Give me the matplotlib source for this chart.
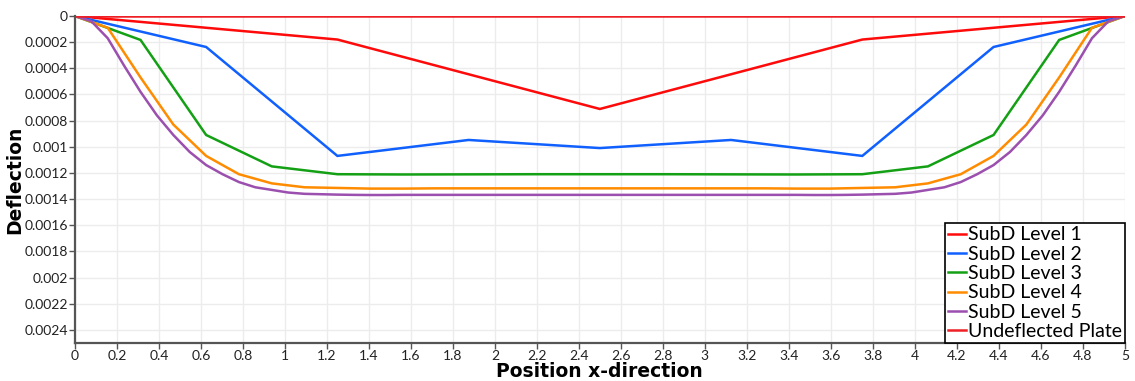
import matplotlib
matplotlib.use("Agg")
import matplotlib.pyplot as plt

# Plate deflection along the x-direction for successive subdivision levels
x_level1 = [0.0, 1.25, 2.5, 3.75, 5.0]
d_level1 = [0.0, 0.000180, 0.000711, 0.000180, 0.0]

x_level2 = [0.0, 0.625, 1.25, 1.875, 2.5, 3.125, 3.75, 4.375, 5.0]
d_level2 = [0.0, 0.000237, 0.00107, 0.000948, 0.00101, 0.000948, 0.00107, 0.000237, 0.0]

x_level3 = [0.0, 0.3125, 0.625, 0.9375, 1.25, 1.5625, 1.875, 2.1875, 2.5,
            2.8125, 3.125, 3.4375, 3.75, 4.0625, 4.375, 4.6875, 5.0]
d_level3 = [0.0, 0.000183, 0.00091, 0.00115, 0.00121, 0.001212, 0.001211, 0.00121, 0.00121,
            0.00121, 0.001211, 0.001212, 0.00121, 0.00115, 0.00091, 0.000183, 0.0]

x_level4 = [0.0, 0.15625, 0.3125, 0.46875, 0.625, 0.78125, 0.9375, 1.09375, 1.25,
            1.40625, 1.5625, 1.71875, 1.875, 2.03125, 2.1875, 2.34375, 2.5,
            2.65625, 2.8125, 2.96875, 3.125, 3.28125, 3.4375, 3.59375, 3.75,
            3.90625, 4.0625, 4.21875, 4.375, 4.53125, 4.6875, 4.84375, 5.0]
d_level4 = [0.0, 0.00009, 0.00047, 0.00083, 0.00107, 0.00121, 0.00128, 0.00131, 0.001315,
            0.00132, 0.00132, 0.001318, 0.001318, 0.001318, 0.001318, 0.001318, 0.001318,
            0.001318, 0.001318, 0.001318, 0.001318, 0.001318, 0.00132, 0.00132, 0.001315,
            0.00131, 0.00128, 0.00121, 0.00107, 0.00083, 0.00047, 0.00009, 0.0]

x_level5 = [0.0, 0.078125, 0.15625, 0.234375, 0.3125, 0.390625, 0.46875, 0.546875,
            0.625, 0.703125, 0.78125, 0.859375, 0.9375, 1.015625, 1.09375, 1.171875,
            1.25, 1.328125, 1.40625, 1.484375, 1.5625, 1.640625, 1.71875, 1.796875,
            1.875, 1.953125, 2.03125, 2.109375, 2.1875, 2.265625, 2.34375, 2.421875,
            2.5, 2.578125, 2.65625, 2.734375, 2.8125, 2.890625, 2.96875, 3.046875,
            3.125, 3.203125, 3.28125, 3.359375, 3.4375, 3.515625, 3.59375, 3.671875,
            3.75, 3.828125, 3.90625, 3.984375, 4.0625, 4.140625, 4.21875, 4.296875,
            4.375, 4.453125, 4.53125, 4.609375, 4.6875, 4.765625, 4.84375, 4.921875, 5.0]
d_level5 = [0.0, 0.00004, 0.00017, 0.00038, 0.00058, 0.00076, 0.00091, 0.00104,
            0.00114, 0.00121, 0.00127, 0.00131, 0.00133, 0.00135, 0.00136, 0.001363,
            0.001366, 0.001368, 0.001369, 0.001369, 0.001368, 0.001368, 0.001368, 0.001368,
            0.001368, 0.001368, 0.001368, 0.001368, 0.001368, 0.001368, 0.001368, 0.001368,
            0.001368, 0.001368, 0.001368, 0.001368, 0.001368, 0.001368, 0.001368, 0.001368,
            0.001368, 0.001368, 0.001368, 0.001368, 0.001368, 0.001369, 0.001369, 0.001368,
            0.001366, 0.001363, 0.00136, 0.00135, 0.00133, 0.00131, 0.00127, 0.00121,
            0.00114, 0.00104, 0.00091, 0.00076, 0.00058, 0.00038, 0.00017, 0.00004, 0.0]

x_plate = [0.0, 5.0]
d_plate = [0.0, 0.0]

series_labels = ["SubD Level 1", "SubD Level 2", "SubD Level 3",
                 "SubD Level 4", "SubD Level 5", "Undeflected Plate"]
series_colors = ["#ff0a0a", "#1060ff", "#14a014", "#ff8c00", "#9b4fae", "#ee2026"]

x_ticks = [round(0.2 * i, 1) for i in range(26)]
y_ticks = [0.0002 * i for i in range(13)]

plt.rcParams["font.family"] = ["Lato", "DejaVu Sans"]

fig = plt.figure(figsize=(11.35, 3.81), dpi=100)
ax = fig.add_axes([0.066, 0.1, 0.925, 0.858])

series = [(x_level1, d_level1), (x_level2, d_level2), (x_level3, d_level3),
          (x_level4, d_level4), (x_level5, d_level5), (x_plate, d_plate)]
for (xs, ds), lab, col in zip(series, series_labels, series_colors):
    ax.plot(xs, ds, color=col, lw=1.8, label=lab, solid_joinstyle="miter")

ax.set_xlim(0, 5)
ax.set_ylim(0.0025, 0)

ax.set_xticks(x_ticks)
ax.set_xticklabels(["0" if v == 0 else ("%g" % v) for v in x_ticks])
ax.set_yticks(y_ticks)
ax.set_yticklabels(["0" if i == 0 else ("%g" % round(v, 4)) for i, v in enumerate(y_ticks)])

ax.grid(True, color="#ececec", lw=1.0)
ax.set_axisbelow(True)
for side in ("top", "right"):
    ax.spines[side].set_visible(False)
for side in ("left", "bottom"):
    ax.spines[side].set_color("#555555")
    ax.spines[side].set_linewidth(1.6)
ax.tick_params(axis="both", colors="#555555", labelcolor="#222222",
               labelsize=10, length=4, width=1, direction="out", pad=1)

ax.set_xlabel("Position x-direction", fontsize=13.5, fontweight="bold",
              fontfamily=["DejaVu Sans"], va="center")
ax.xaxis.set_label_coords(0.5, -0.088)
ax.set_ylabel("Deflection", fontsize=13.5, fontweight="bold",
              fontfamily=["DejaVu Sans"], va="center")
ax.yaxis.set_label_coords(-0.057, 0.5)

leg = ax.legend(loc="lower right", fontsize=14, frameon=True, fancybox=False,
                borderpad=0.15, labelspacing=0.12, handlelength=0.95,
                handletextpad=0.08, borderaxespad=0.0)
leg.get_frame().set_edgecolor("#000000")
leg.get_frame().set_linewidth(1.2)
leg.get_frame().set_alpha(1.0)

fig.savefig("out.png", dpi=100)
